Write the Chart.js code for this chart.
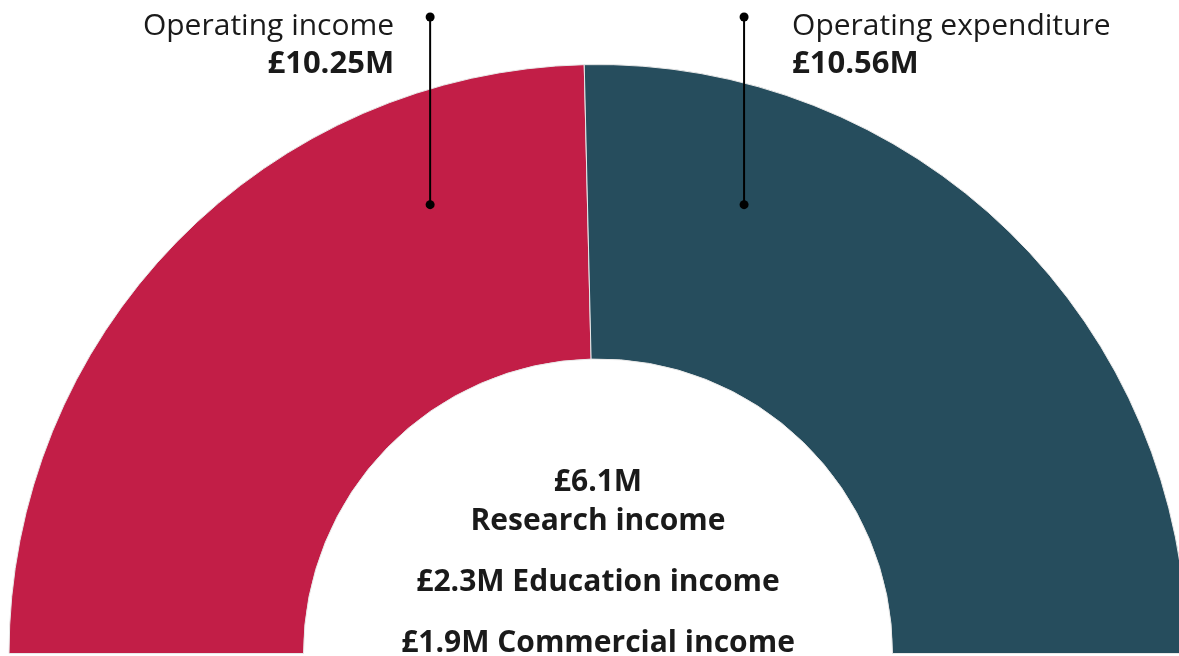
<!DOCTYPE html>
<html>
<head>
<meta charset="utf-8">
<script src="https://cdn.jsdelivr.net/npm/chart.js@4"></script>
<style>
  html, body { margin: 0; padding: 0; background: #fff; }
  #wrap { width: 1179px; height: 656px; position: relative; }
</style>
</head>
<body>
<div id="wrap"><canvas id="chart"></canvas></div>
<script>
// Data
const categories = ['Operating income', 'Operating expenditure'];
const values = [10.25, 10.56];
const valueLabels = ['£10.25M', '£10.56M'];
const colors = ['#c21e47', '#264d5d'];
const centreLines = [
    { text: '£6.1M', gap: 0 },
    { text: 'Research income', gap: 0 },
    { text: '£2.3M Education income', gap: 1 },
    { text: '£1.9M Commercial income', gap: 1 }
];

const FONT = '"Open Sans", "Noto Sans", sans-serif';
const INK = '#1a1a1a';

// Callout labels with a pin line above each arc
const calloutPlugin = {
    id: 'callouts',
    afterDatasetsDraw(chart) {
        const arc = chart.getDatasetMeta(0).data[0];
        if (!arc) return;
        const { x: cx, y: cy, outerRadius: R } = arc.getProps(['x', 'y', 'outerRadius'], true);
        const ctx = chart.ctx;
        const pins = [
            { x: cx - 0.285 * R, align: 'right', tx: -36 },
            { x: cx + 0.248 * R, align: 'left', tx: 48 }
        ];
        const top = 17, bottom = cy - 0.762 * R;
        ctx.save();
        pins.forEach((p, i) => {
            ctx.strokeStyle = '#000';
            ctx.fillStyle = '#000';
            ctx.lineWidth = 2;
            ctx.beginPath();
            ctx.moveTo(p.x, top);
            ctx.lineTo(p.x, bottom);
            ctx.stroke();
            [top, bottom].forEach(y => {
                ctx.beginPath();
                ctx.arc(p.x, y, 4.5, 0, Math.PI * 2);
                ctx.fill();
            });
            ctx.fillStyle = INK;
            ctx.textAlign = p.align;
            ctx.textBaseline = 'alphabetic';
            ctx.font = '30px ' + FONT;
            ctx.fillText(categories[i], p.x + p.tx, 35);
            ctx.font = 'bold 31px ' + FONT;
            ctx.fillText(valueLabels[i], p.x + p.tx, 73);
        });

        // centre text
        ctx.fillStyle = INK;
        ctx.textAlign = 'center';
        ctx.font = 'bold 30px ' + FONT;
        let y = 491;
        centreLines.forEach((l, i) => {
            if (i > 0) y += l.gap ? 61 : 39;
            ctx.fillText(l.text, cx, y);
        });
        ctx.restore();
    }
};

new Chart(document.getElementById('chart'), {
    type: 'doughnut',
    data: {
        labels: categories,
        datasets: [{
            data: values,
            backgroundColor: colors,
            borderColor: '#e8e8e8',
            borderWidth: 1
        }]
    },
    options: {
        responsive: true,
        maintainAspectRatio: false,
        animation: false,
        rotation: -90,
        circumference: 180,
        radius: 589,
        cutout: '50%',
        layout: { padding: { left: 17, right: 0, top: 62, bottom: 0 } },
        plugins: {
            legend: { display: false },
            tooltip: { enabled: false }
        }
    },
    plugins: [calloutPlugin]
});
</script>
</body>
</html>
